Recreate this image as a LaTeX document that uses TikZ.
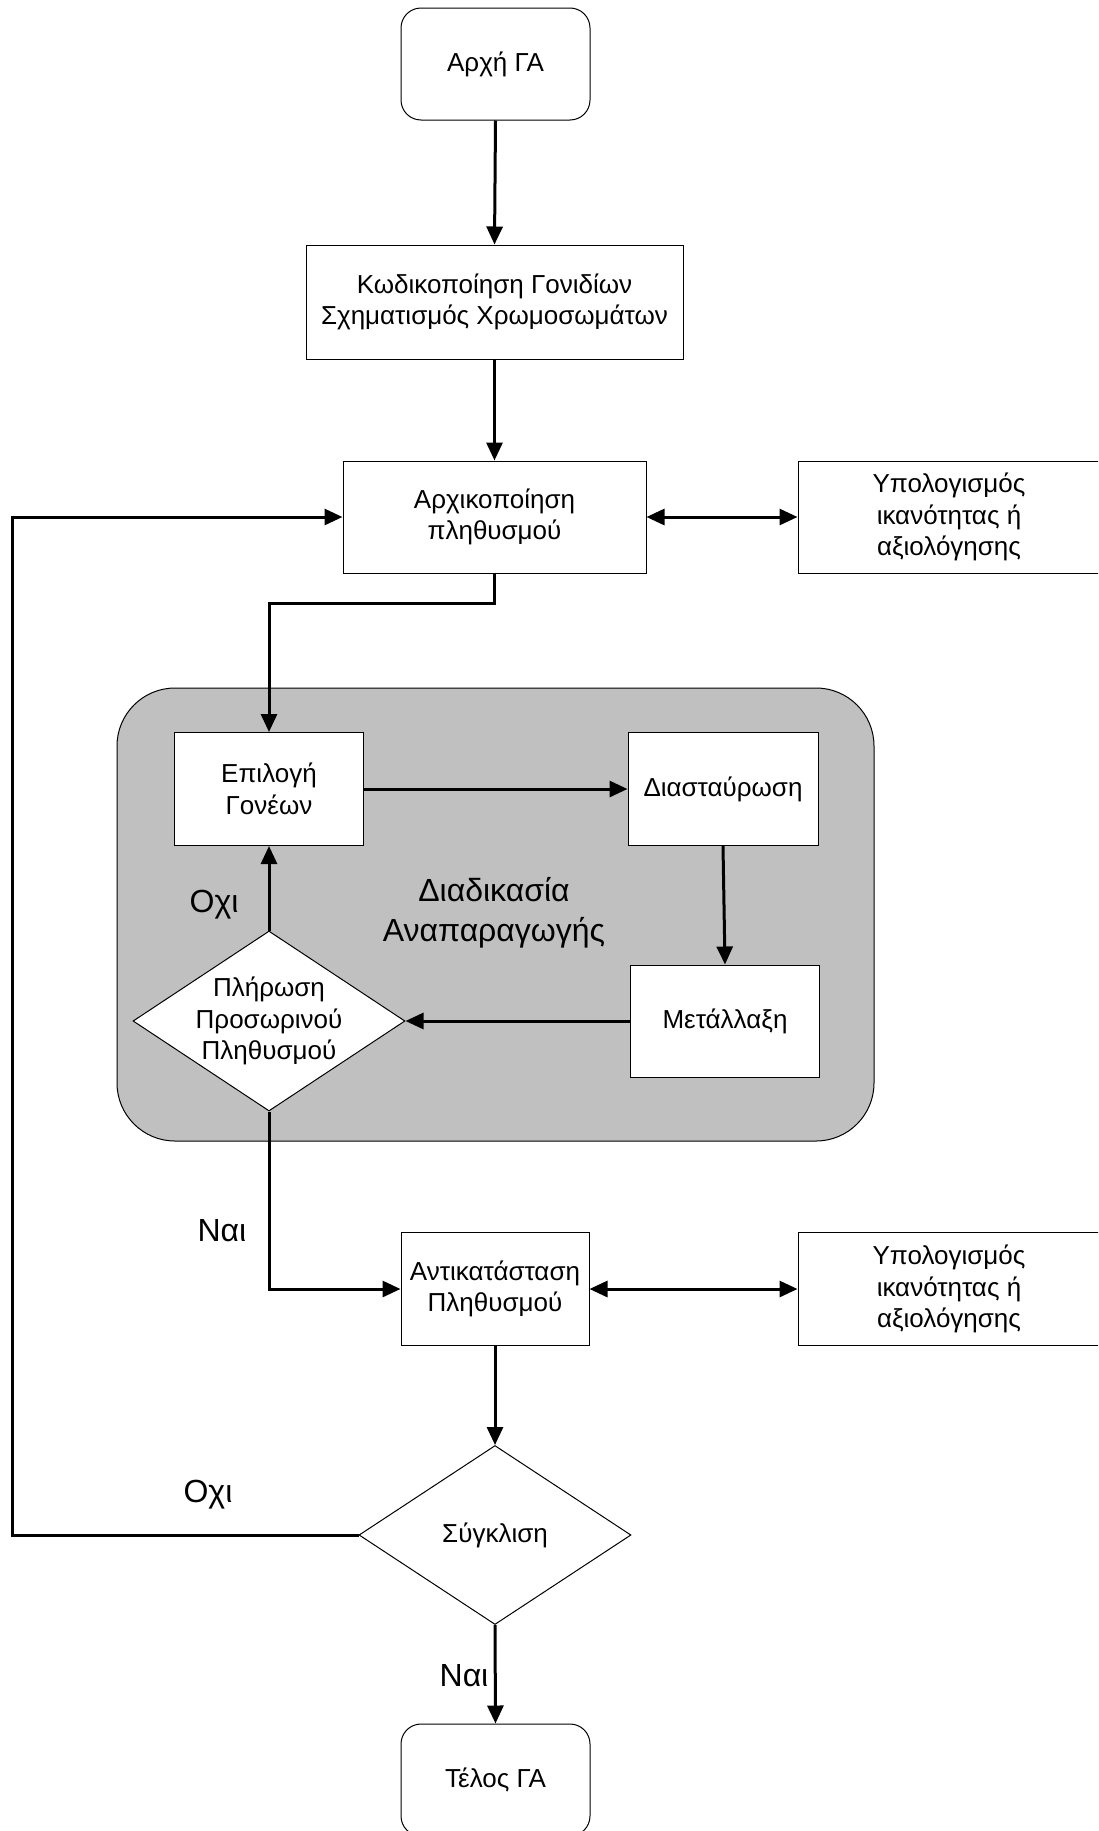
\documentclass[tikz,border=0pt]{standalone}
\usepackage{fontspec}
\setmainfont{Liberation Sans}
\usetikzlibrary{arrows.meta,shapes.geometric}
\definecolor{regiongray}{RGB}{192,192,192}
\begin{document}
\begin{tikzpicture}[x=0.5pt,y=-0.5pt,
  boxtext/.style={font=\fontsize{13}{15.75}\selectfont,align=center},
  bigtext/.style={font=\fontsize{16}{20}\selectfont,align=center},
  box/.style={draw,line width=0.5pt,fill=white,inner sep=0pt,boxtext},
  rbox/.style={box,rounded corners=10pt},
  dia/.style={draw,line width=0.5pt,fill=white,shape=diamond,inner sep=0pt},
  conn/.style={line width=1.5pt,-{Triangle[length=9pt,width=8pt]}},
  dconn/.style={line width=1.5pt,{Triangle[length=9pt,width=8pt]}-{Triangle[length=9pt,width=8pt]}},
  plain/.style={line width=1.5pt}
]
\useasboundingbox (0,0) rectangle (1098,1831);
\clip (0,0) rectangle (1098,1831);

% container
\node[draw,line width=0.5pt,fill=regiongray,rounded corners=29pt,minimum width=378.5pt,minimum height=226.5pt,inner sep=0pt] (region) at (495.5,914.5) {};

% nodes
\node[rbox,minimum width=94.5pt,minimum height=56pt] (start) at (495.5,64) {Αρχή ΓΑ};
\node[box,minimum width=188.5pt,minimum height=57pt] (kod) at (494.5,302) {Κωδικοποίηση Γονιδίων\\Σχηματισμός Χρωμοσωμάτων};
\node[box,minimum width=151.5pt,minimum height=56pt] (init) at (494.5,517) {Αρχικοποίηση\\πληθυσμού};
\node[box,minimum width=151pt,minimum height=56pt] (fit1) at (949,517) {Υπολογισμός\\ικανότητας ή\\αξιολόγησης};

\node[box,minimum width=94.5pt,minimum height=56.5pt] (sel) at (269,789) {Επιλογή\\Γονέων};
\node[box,minimum width=95pt,minimum height=56.5pt] (cross) at (723,789) {Διασταύρωση};
\node[box,minimum width=94.5pt,minimum height=56pt] (mut) at (725,1021) {Μετάλλαξη};
\node[dia,minimum width=136pt,minimum height=90pt] (fillq) at (269,1021) {};
\node[boxtext] (fillqtext) at (269,1021) {Πλήρωση\\Προσωρινού\\Πληθυσμού};
\node[bigtext] (regionlabel) at (494,913) {Διαδικασία\\Αναπαραγωγής};

\node[box,minimum width=94pt,minimum height=56.5pt] (repl) at (495,1289) {Αντικατάσταση\\Πληθυσμού};
\node[box,minimum width=151pt,minimum height=56.5pt] (fit2) at (949,1289) {Υπολογισμός\\ικανότητας ή\\αξιολόγησης};
\node[dia,minimum width=136pt,minimum height=89.5pt] (conv) at (495,1535) {};
\node[boxtext] (convtext) at (495,1535) {Σύγκλιση};
\node[rbox,minimum width=94.5pt,minimum height=56pt] (end) at (495.5,1780) {Τέλος ΓΑ};

% labels
\node[bigtext] (no1) at (214,905) {Οχι};
\node[bigtext] (yes1) at (222,1231) {Ναι};
\node[bigtext] (no2) at (208,1495) {Οχι};
\node[bigtext] (yes2) at (464,1676) {Ναι};

\coordinate (lp) at (12,1535);

% connectors
\draw[conn] (start.south) -- (kod.north);
\draw[conn] (kod.south) -- (init.north);
\draw[dconn] (init.east) -- (fit1.west);
\draw[conn] (init.south) -- ++(0,30) -| (sel.north);
\draw[conn] (sel.east) -- (cross.west);
\draw[conn] (cross.south) -- (mut.north);
\draw[conn] (mut.west) -- (fillq.east);
\draw[conn] (fillq.north) -- (sel.south);
\draw[conn] (fillq.south) |- (repl.west);
\draw[dconn] (repl.east) -- (fit2.west);
\draw[conn] (repl.south) -- (conv.north);
\draw[conn] (conv.west) -- (lp) |- (init.west);
\draw[conn] (conv.south) -- (end.north);
\end{tikzpicture}
\end{document}
